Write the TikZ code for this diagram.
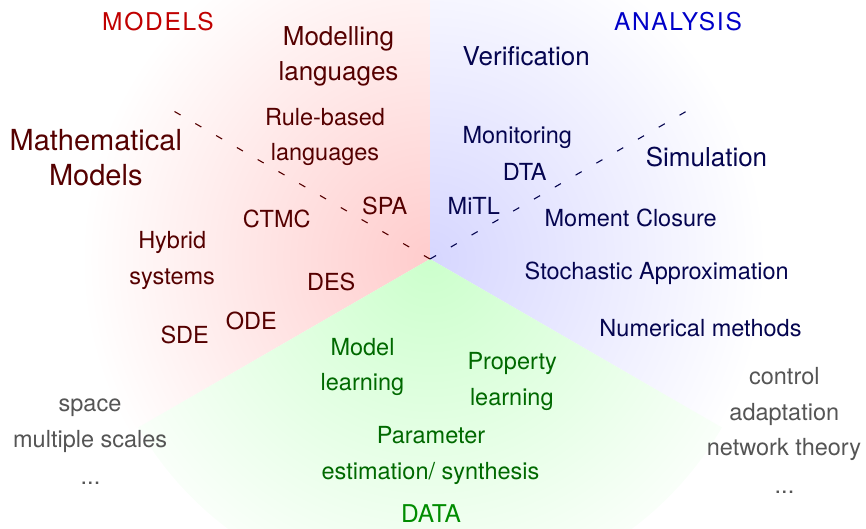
\documentclass[tikz,border=0pt]{standalone}
\usepackage{fontspec}
\setmainfont{TeX Gyre Heros}
\definecolor{redc}{RGB}{255,204,204}
\definecolor{bluec}{RGB}{214,214,255}
\definecolor{greenc}{RGB}{204,255,204}
\definecolor{titleRed}{RGB}{192,0,0}
\definecolor{titleBlue}{RGB}{0,0,200}
\definecolor{titleGreen}{RGB}{0,140,0}
\definecolor{redText}{RGB}{85,0,0}
\definecolor{blueText}{RGB}{5,5,80}
\definecolor{greenText}{RGB}{0,105,0}
\definecolor{greyText}{RGB}{85,85,85}
\pgfdeclareradialshading{redfade}{\pgfpointorigin}{color(0bp)=(redc); color(348bp)=(white)}
\pgfdeclareradialshading{bluefade}{\pgfpointorigin}{color(0bp)=(bluec); color(335bp)=(white)}
\pgfdeclareradialshading{greenfade}{\pgfpointorigin}{color(0bp)=(greenc); color(378bp)=(white)}
\tikzset{
  lbl/.style={anchor=base, inner sep=0pt, outer sep=0pt},
  shadenode/.style={inner sep=0pt, outer sep=0pt, anchor=center},
  smalltxt/.style={lbl, font=\fontsize{23.5}{28}\selectfont},
  medtxt/.style={lbl, font=\fontsize{26}{30}\selectfont},
  largetxt/.style={lbl, font=\fontsize{29}{34}\selectfont},
  titletxt/.style={lbl, font=\fontsize{24.5}{29}\selectfont\addfontfeature{LetterSpace=7}},
  redtxt/.style={text=redText},
  bluetxt/.style={text=blueText},
  greentxt/.style={text=greenText},
  greytxt/.style={text=greyText},
  dashline/.style={line width=1.1pt, dash pattern=on 7pt off 17pt}
}
\begin{document}
\begin{tikzpicture}[x=1pt,y=-1pt]
\useasboundingbox (0,0) rectangle (866,528);
\coordinate (apex) at (430,259);
\coordinate (dl) at (174.5,111.5);
\coordinate (dr) at (686,111.5);

% sectors
\begin{scope}
  \clip (apex) -- ++(-90:350) arc[start angle=-90, end angle=-210, radius=350] -- cycle;
  \node[shadenode] (redsh) at (apex) {\pgfuseshading{redfade}};
\end{scope}
\begin{scope}
  \clip (apex) -- ++(30:337) arc[start angle=30, end angle=-90, radius=337] -- cycle;
  \node[shadenode] (bluesh) at (apex) {\pgfuseshading{bluefade}};
\end{scope}
\begin{scope}
  \clip (apex) -- ++(150:337) arc[start angle=150, end angle=30, radius=337] -- cycle;
  \node[shadenode] (greensh) at (apex) {\pgfuseshading{greenfade}};
\end{scope}

% dashed lines
\draw[dashline, draw=redText] (apex) -- (dl);
\draw[dashline, draw=blueText] (apex) -- (dr);

% titles
\node[titletxt, text=titleRed] (tmodels) at (158,30) {MODELS};
\node[titletxt, text=titleBlue] (tanalysis) at (678,30) {ANALYSIS};
\node[lbl, font=\fontsize{24.5}{29}\selectfont, text=titleGreen] (tdata) at (431,522.5) {DATA};

% models sector
\node[medtxt, redtxt] (ml1) at (338.5,45) {Modelling};
\node[medtxt, redtxt] (ml2) at (338.5,80) {languages};
\node[largetxt, redtxt] (mm1) at (95.8,150) {Mathematical};
\node[largetxt, redtxt] (mm2) at (95.8,185.7) {Models};
\node[smalltxt, redtxt] (rb1) at (325,125) {Rule-based};
\node[smalltxt, redtxt] (rb2) at (325,160.7) {languages};
\node[smalltxt, redtxt] (ctmc) at (276.7,227) {CTMC};
\node[smalltxt, redtxt] (spa) at (384.7,214) {SPA};
\node[smalltxt, redtxt] (hy1) at (172.2,248) {Hybrid};
\node[smalltxt, redtxt] (hy2) at (172.2,284) {systems};
\node[smalltxt, redtxt] (des) at (331.2,290) {DES};
\node[smalltxt, redtxt] (ode) at (251.3,329) {ODE};
\node[smalltxt, redtxt] (sde) at (184.7,343) {SDE};

% analysis sector
\node[medtxt, bluetxt] (verif) at (526.3,65) {Verification};
\node[medtxt, bluetxt] (simul) at (706.5,166.7) {Simulation};
\node[smalltxt, bluetxt] (monit) at (517.3,143.3) {Monitoring};
\node[smalltxt, bluetxt] (dta) at (524.7,180) {DTA};
\node[smalltxt, bluetxt] (mitl) at (473.8,214) {MiTL};
\node[smalltxt, bluetxt] (mclos) at (630.7,226.7) {Moment Closure};
\node[smalltxt, bluetxt] (stoch) at (656.7,279) {Stochastic Approximation};
\node[smalltxt, bluetxt] (numer) at (700.5,336.3) {Numerical methods};

% data sector
\node[smalltxt, greentxt] (mlr1) at (362.5,355.7) {Model};
\node[smalltxt, greentxt] (mlr2) at (362.5,390.7) {learning};
\node[smalltxt, greentxt] (pl1) at (512.2,369) {Property};
\node[smalltxt, greentxt] (pl2) at (511.8,405.7) {learning};
\node[smalltxt, greentxt] (pe1) at (431,443) {Parameter};
\node[smalltxt, greentxt] (pe2) at (430.5,479) {estimation/ synthesis};

% grey extras
\node[smalltxt, greytxt] (g1) at (90,411.7) {space};
\node[smalltxt, greytxt] (g2) at (90.2,447.3) {multiple scales};
\node[smalltxt, greytxt] (g3) at (90.5,484.7) {...};
\node[smalltxt, greytxt] (h1) at (784.3,384) {control};
\node[smalltxt, greytxt] (h2) at (784.3,420) {adaptation};
\node[smalltxt, greytxt] (h3) at (784,455.7) {network theory};
\node[smalltxt, greytxt] (h4) at (784.5,493) {...};
\end{tikzpicture}
\end{document}
